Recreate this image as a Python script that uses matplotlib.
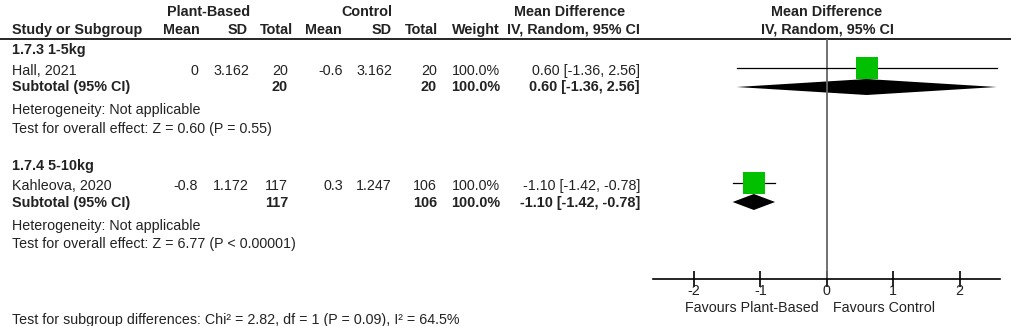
import numpy as np
import matplotlib.pyplot as plt
from matplotlib.patches import Polygon

plt.rcParams['font.family'] = ['Liberation Sans', 'DejaVu Sans']

# datos del forest plot
studies = ["Hall, 2021", "Kahleova, 2020"]
groups = ["1.7.3 1-5kg", "1.7.4 5-10kg"]
pb_mean = ["0", "-0.8"]
pb_sd = ["3.162", "1.172"]
pb_n = [20, 117]
ct_mean = ["-0.6", "0.3"]
ct_sd = ["3.162", "1.247"]
ct_n = [20, 106]
weights = ["100.0%", "100.0%"]
md = [0.60, -1.10]
ci_lo = [-1.36, -1.42]
ci_hi = [2.56, -0.78]
sub_md = [0.60, -1.10]
sub_lo = [-1.36, -1.42]
sub_hi = [2.56, -0.78]
overall_tests = ["Test for overall effect: Z = 0.60 (P = 0.55)",
                 "Test for overall effect: Z = 6.77 (P < 0.00001)"]
subgroup_test = "Test for subgroup differences: Chi\u00b2 = 2.82, df = 1 (P = 0.09), I\u00b2 = 64.5%"
xticks = [-2, -1, 0, 1, 2]

W, H = 1012, 326
fig = plt.figure(figsize=(W / 100, H / 100), dpi=100)

# ejes de texto en pixeles
tx = fig.add_axes([0, 0, 1, 1])
tx.set_xlim(0, W)
tx.set_ylim(H, 0)
tx.axis('off')

col = '#222222'
fs = 10.3      # texto normal
fsb = 10.4     # texto en negrita

def t(x, y, s, ha='right', bold=False):
    tx.text(x, y, s, ha=ha, va='center', fontsize=fsb if bold else fs,
            color=col, fontweight='bold' if bold else 'normal')

# cabeceras
t(209, 12, "Plant-Based", ha='center', bold=True)
t(367, 12, "Control", ha='center', bold=True)
t(570, 12, "Mean Difference", ha='center', bold=True)
t(827, 12, "Mean Difference", ha='center', bold=True)
t(12, 30, "Study or Subgroup", ha='left', bold=True)
for x, s in [(200, "Mean"), (248, "SD"), (293, "Total"), (342, "Mean"),
             (392, "SD"), (438, "Total"), (500, "Weight"), (640, "IV, Random, 95% CI")]:
    t(x, 30, s, bold=True)
t(827, 30, "IV, Random, 95% CI", ha='center', bold=True)
tx.plot([0, W], [39, 39], color='black', lw=1.2)

# filas por subgrupo
row_y = [[50, 71, 87, 110, 129], [166, 186, 203, 226, 244]]
for i in range(2):
    yg, ys, ysub, yh, yt = row_y[i]
    t(12, yg, groups[i], ha='left', bold=True)
    t(12, ys, studies[i], ha='left')
    t(198, ys, pb_mean[i])
    t(249, ys, pb_sd[i])
    t(288, ys, str(pb_n[i]))
    t(343, ys, ct_mean[i])
    t(392, ys, ct_sd[i])
    t(437, ys, str(ct_n[i]))
    t(500, ys, weights[i])
    t(640, ys, f"{md[i]:.2f} [{ci_lo[i]:.2f}, {ci_hi[i]:.2f}]")
    t(12, ysub, "Subtotal (95% CI)", ha='left', bold=True)
    t(288, ysub, str(pb_n[i]), bold=True)
    t(437, ysub, str(ct_n[i]), bold=True)
    t(500, ysub, weights[i], bold=True)
    t(640, ysub, f"{sub_md[i]:.2f} [{sub_lo[i]:.2f}, {sub_hi[i]:.2f}]", bold=True)
    t(12, yh, "Heterogeneity: Not applicable", ha='left')
    t(12, yt, overall_tests[i], ha='left')
t(12, 320, subgroup_test, ha='left')

# ejes del forest plot
x0, x1 = 653, 1000
ax = fig.add_axes([x0 / W, (H - 279) / H, (x1 - x0) / W, (279 - 39) / H])
ax.set_xlim(-2.62, 2.61)
ax.set_ylim(279, 39)
ax.patch.set_alpha(0)
for s in ['top', 'right', 'left']:
    ax.spines[s].set_visible(False)
ax.spines['bottom'].set_linewidth(1.2)
ax.set_yticks([])
ax.set_xticks(xticks)
ax.set_xticklabels([str(v) for v in xticks])
ax.tick_params(axis='x', direction='inout', length=11, width=1.2,
               labelsize=fs, labelcolor=col, pad=-2)

ax.plot([0, 0], [39, 279], color='#666666', lw=1.3)

study_y = [68, 183]
sub_y = [87, 202]
for i in range(2):
    ax.plot([ci_lo[i], ci_hi[i]], [study_y[i], study_y[i]], color='black', lw=0.9)
    ax.plot(md[i], study_y[i], marker='s', ms=15.5, color='#00c000',
            markeredgewidth=0)
    dia = Polygon([[sub_lo[i], sub_y[i]], [sub_md[i], sub_y[i] - 8],
                   [sub_hi[i], sub_y[i]], [sub_md[i], sub_y[i] + 8]],
                  closed=True, facecolor='black', edgecolor='none')
    ax.add_patch(dia)

t(819, 308, "Favours Plant-Based")
t(833, 308, "Favours Control", ha='left')

fig.savefig("out.png", dpi=100)
